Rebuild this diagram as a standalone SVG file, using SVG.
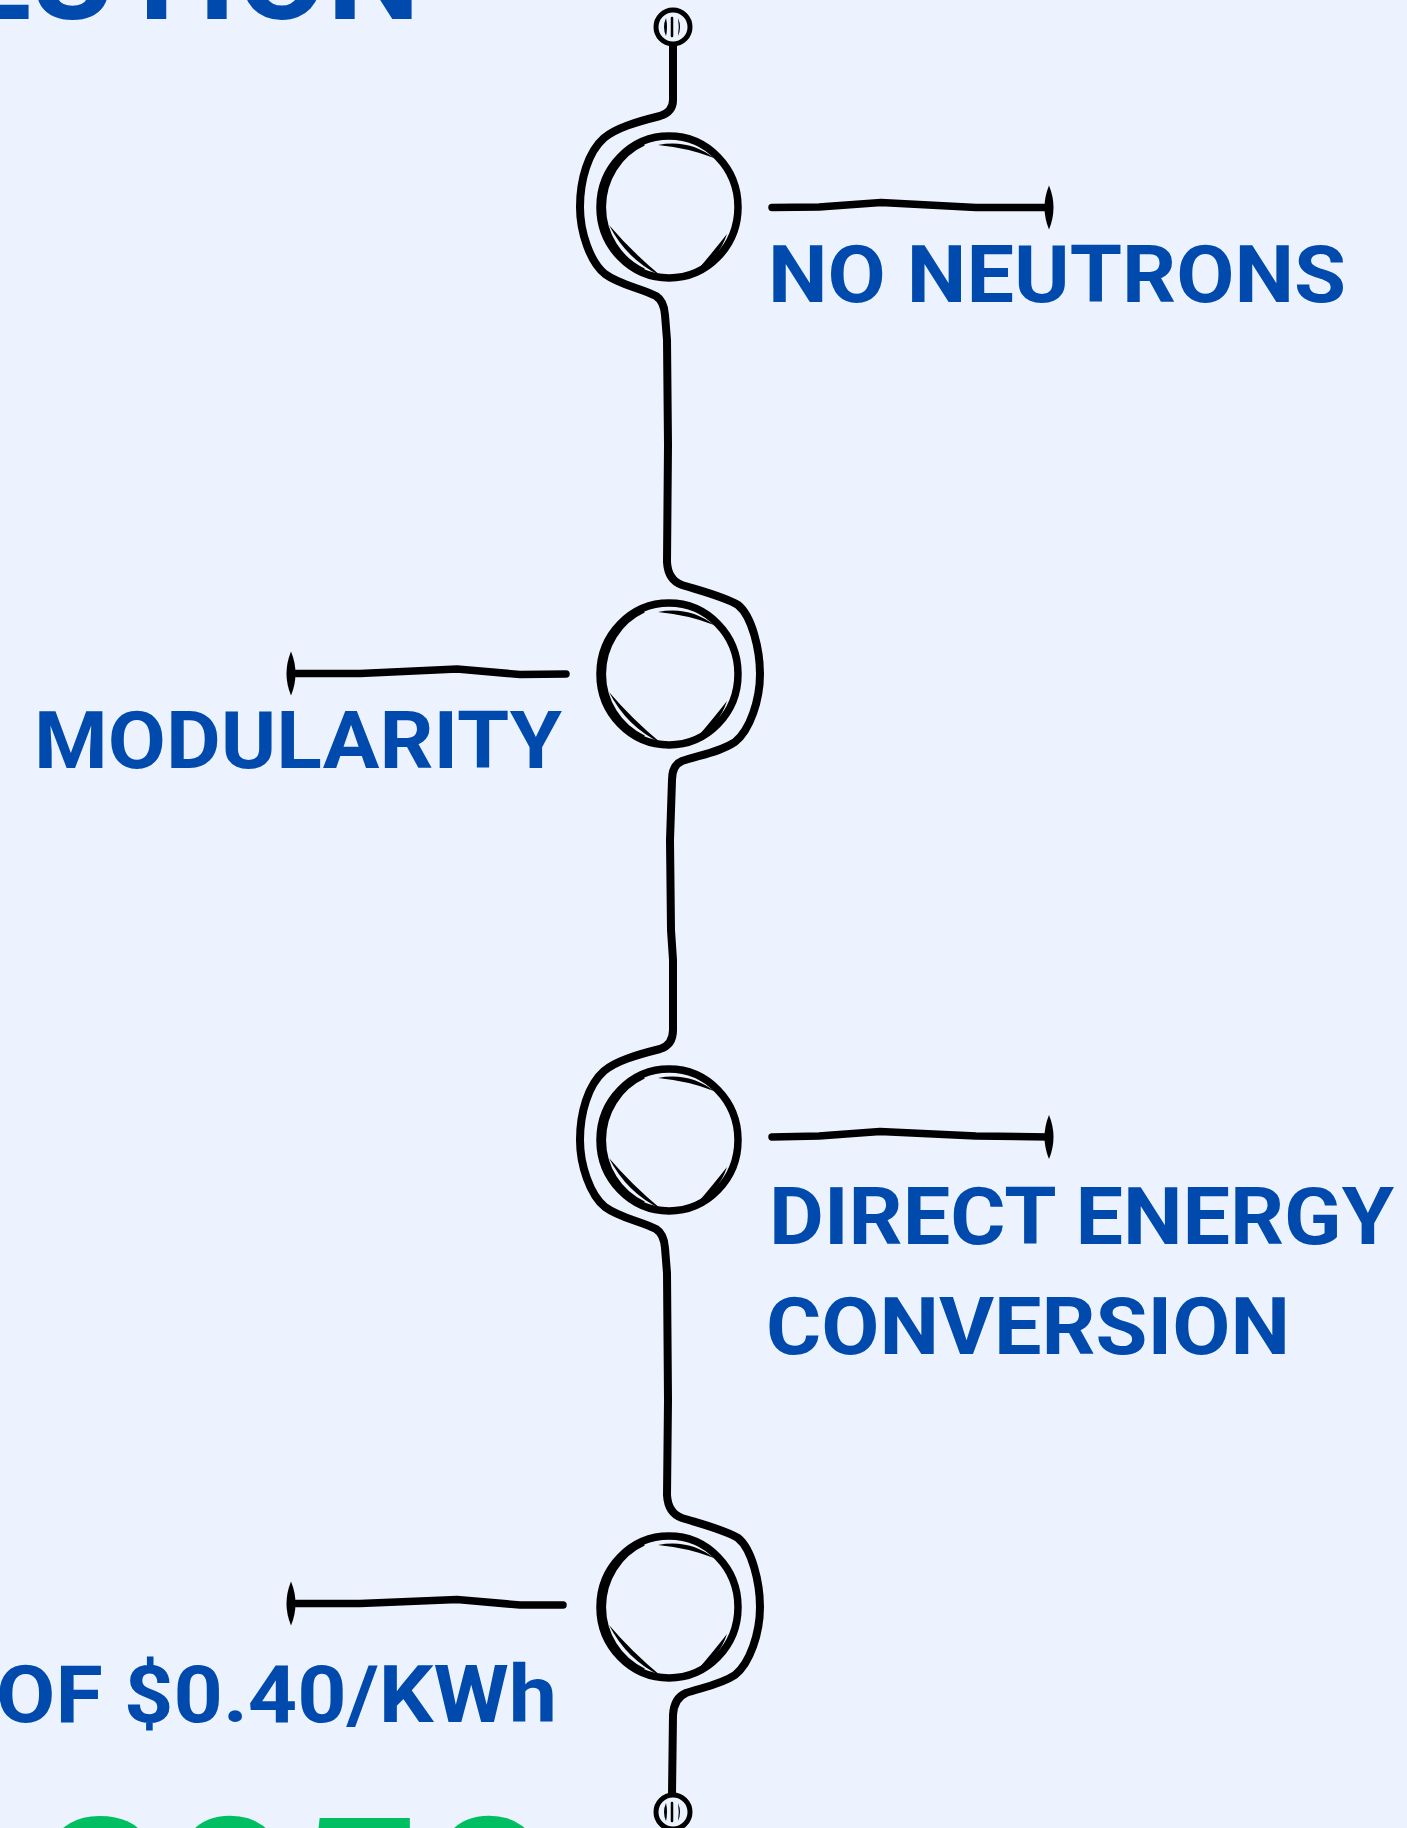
<svg xmlns="http://www.w3.org/2000/svg" width="1407" height="1828" viewBox="0 0 1407 1828">
<defs>
<style>
.bg{fill:#ECF3FE}
.lbl{font-family:Roboto,'Liberation Sans',Arial,sans-serif;font-weight:700;fill:#004AAD;font-size:80px}
.ttl{font-family:Roboto,'Liberation Sans',Arial,sans-serif;font-weight:700;fill:#004AAD;font-size:125px}
.yr{font-family:Roboto,'Liberation Sans',Arial,sans-serif;font-weight:700;fill:#00BF63;font-size:230px}
.ring{fill:none;stroke:#000;stroke-width:7.5}
.ring2{fill:none;stroke:#000;stroke-width:3.5}
.ink{fill:#000}
.wire{fill:none;stroke:#000;stroke-width:8;stroke-linecap:round;stroke-linejoin:round}
.lead{fill:none;stroke:#000;stroke-width:7.5;stroke-linecap:round;stroke-linejoin:round}
.pin{fill:#ECF3FE;stroke:#000;stroke-width:5}
.mark{fill:none;stroke:#000;stroke-width:2.5;stroke-linecap:round}
</style>
<g id="circ">
<ellipse class="ring" cx="0" cy="0" rx="69" ry="71"/>
<path class="ring2" d="M-25,63 A67 69 0 0 1 -25,-63"/>
<path class="ink" d="M-11,-62 Q20,-68 45,-49 Q20,-59 -11,-62 Z"/>
<path class="ink" d="M-60,18 Q-42,53 -8,69 Q-37,45 -60,18 Z"/>
<path class="ink" d="M31,60 Q50,51 58,27 Q43,46 31,60 Z"/>
</g>
<g id="pinhead">
<circle class="pin" cx="0" cy="0" r="17"/>
<path class="ink" d="M-7,-9 Q-11,0 -7,9 Q-5,0 -7,-9 Z"/>
<path class="mark" d="M-1,-9 L-1,9"/>
<path class="ink" d="M5,-9 Q9,0 5,9 Q6.5,0 5,-9 Z"/>
</g>
<path id="lens" class="ink" d="M0,-22 Q9,0 0,22 Q-9,0 0,-22 Z"/>
</defs>

<rect class="bg" x="0" y="0" width="1407" height="1828"/>

<g id="title">
<text class="ttl" x="-40" y="19" textLength="460" lengthAdjust="spacingAndGlyphs">LUTION</text>
</g>
<g id="year">
<text class="yr" x="36" y="1982" textLength="518" lengthAdjust="spacingAndGlyphs">2050</text>
</g>

<g id="connectors">
<path class="wire" d="M673,45 L673,100 Q673,112 660,116 C636,122 616,128 604,138 C588,152 580,180 580,207 C580,232 590,262 605,274 C620,285 640,288 656,296 Q664,301 665,315 L667,340 L668,445 L667,562 Q668,580 682,585 C705,592 725,597 738,605 C752,616 760,650 760,674 C760,700 750,730 735,742 C720,752 700,755 682,761 Q672,765 672,780 L670,840 L671,930 L673,960 L673,1030 Q673,1045 660,1049 C636,1055 616,1061 604,1071 C588,1085 580,1113 580,1140 C580,1165 590,1195 605,1207 C620,1218 640,1221 656,1229 Q664,1234 665,1248 L667,1273 L668,1400 L667,1495 Q668,1513 682,1518 C705,1525 725,1530 738,1538 C752,1549 760,1583 760,1607 C760,1633 750,1663 735,1675 C720,1685 700,1688 686,1693 Q674,1698 673,1715 L672,1794"/>
<path class="lead" d="M772,207.5 L819,207 L881,202.5 L976,207.5 L1049,207.5"/>
<use href="#lens" x="1049" y="207.5"/>
<path class="lead" d="M566,674 L520,674.5 L457,669 L360,673.5 L291,673.5"/>
<use href="#lens" x="291" y="673.5"/>
<path class="lead" d="M772,1137 L819,1136 L880,1131.5 L976,1136 L1049,1137"/>
<use href="#lens" x="1049" y="1137"/>
<path class="lead" d="M563,1605 L520,1605 L457,1599.5 L360,1603.5 L291,1603.5"/>
<use href="#lens" x="291" y="1603.5"/>
</g>

<g id="pin-top"><use href="#pinhead" x="673" y="27"/></g>
<g id="pin-bottom"><use href="#pinhead" x="673" y="1812"/></g>

<g id="node-1"><use href="#circ" x="669" y="207"/></g>
<g id="node-2"><use href="#circ" x="669" y="674"/></g>
<g id="node-3"><use href="#circ" x="669" y="1140"/></g>
<g id="node-4"><use href="#circ" x="669" y="1607"/></g>

<g id="label-1"><text class="lbl" x="768" y="302" textLength="578" lengthAdjust="spacingAndGlyphs">NO NEUTRONS</text></g>
<g id="label-2"><text class="lbl" x="34" y="768" textLength="528" lengthAdjust="spacingAndGlyphs">MODULARITY</text></g>
<g id="label-3">
<text class="lbl" x="769" y="1244" textLength="625" lengthAdjust="spacingAndGlyphs">DIRECT ENERGY</text>
<text class="lbl" x="766" y="1354" textLength="524" lengthAdjust="spacingAndGlyphs">CONVERSION</text>
</g>
<g id="label-4"><text class="lbl" x="-4" y="1722" textLength="561" lengthAdjust="spacingAndGlyphs">OF $0.40/KWh</text></g>
</svg>
